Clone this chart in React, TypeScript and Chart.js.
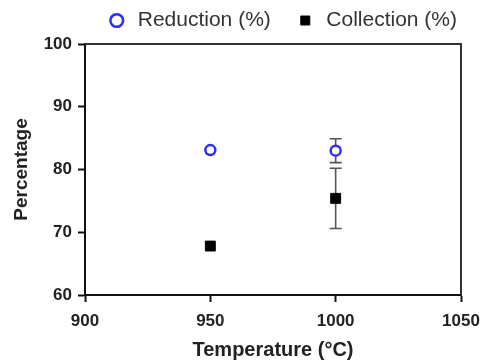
import React, { useEffect, useRef } from "react";
import { Chart, registerables } from "chart.js";

Chart.register(...registerables);

const temperatures = [950, 1000];
const reductionValues = [83.1, 83.0];
const reductionErrors = [0, 1.9];
const collectionValues = [67.8, 75.4];
const collectionErrors = [0, 4.8];
const xTicks = [900, 950, 1000, 1050];
const yTicks = [60, 70, 80, 90, 100];

const FONT = "Arial, 'Liberation Sans', Helvetica, sans-serif";

const errorBarPlugin = {
  id: "errorBars",
  beforeDatasetsDraw(chart: any) {
    const ctx = chart.ctx;
    const xs = chart.scales.x;
    const ys = chart.scales.y;
    chart.data.datasets.forEach((ds: any) => {
      const errs: number[] = ds.errors || [];
      ds.data.forEach((p: any, i: number) => {
        const e = errs[i];
        if (!e) return;
        const x = xs.getPixelForValue(p.x);
        const yTop = ys.getPixelForValue(p.y + e);
        const yBot = ys.getPixelForValue(p.y - e);
        ctx.save();
        ctx.strokeStyle = "#555555";
        ctx.lineWidth = 1.6;
        ctx.beginPath();
        ctx.moveTo(x, yTop);
        ctx.lineTo(x, yBot);
        ctx.moveTo(x - 6, yTop);
        ctx.lineTo(x + 6, yTop);
        ctx.moveTo(x - 6, yBot);
        ctx.lineTo(x + 6, yBot);
        ctx.stroke();
        ctx.restore();
      });
    });
  },
};

const framePlugin = {
  id: "frame",
  afterDraw(chart: any) {
    const { ctx, chartArea } = chart;
    ctx.save();
    ctx.strokeStyle = "#333333";
    ctx.lineWidth = 2;
    ctx.beginPath();
    ctx.moveTo(chartArea.left, chartArea.top);
    ctx.lineTo(chartArea.right, chartArea.top);
    ctx.lineTo(chartArea.right, chartArea.bottom);
    ctx.stroke();
    ctx.restore();
  },
};

// nudge the legend box after layout so its items sit where the reference has them
const legendShiftPlugin = {
  id: "legendShift",
  afterLayout(chart: any) {
    const lg = chart.legend;
    if (!lg) return;
    lg.top = -14;
    lg.right = 481;
  },
};

export default function App() {
  const ref = useRef<HTMLCanvasElement | null>(null);
  useEffect(() => {
    if (!ref.current) return;
    const chart = new Chart(ref.current, {
      type: "scatter",
      data: {
        datasets: [
          {
            label: "Reduction (%)",
            data: temperatures.map((t, i) => ({ x: t, y: reductionValues[i] })),
            errors: reductionErrors,
            pointStyle: "circle",
            pointRadius: 5,
            borderWidth: 2.5,
            borderColor: "#2b2bff",
            backgroundColor: "#ffffff",
          } as any,
          {
            label: "Collection (%)",
            data: temperatures.map((t, i) => ({ x: t, y: collectionValues[i] })),
            errors: collectionErrors,
            pointStyle: "rect",
            pointRadius: 7,
            borderWidth: 1,
            borderColor: "#000000",
            backgroundColor: "#000000",
          } as any,
        ],
      },
      options: {
        responsive: false,
        animation: false,
        layout: { padding: { left: 0, right: 22, top: 0, bottom: 0 } },
        plugins: {
          tooltip: { enabled: false },
          legend: {
            display: true,
            position: "top",
            align: "end",
            maxHeight: 44,
            labels: {
              usePointStyle: true,
              boxHeight: 9,
              padding: 24,
              color: "#333333",
              font: { family: FONT, size: 21 },
            },
          },
        },
        scales: {
          x: {
            type: "linear",
            min: 900,
            max: 1050,
            afterBuildTicks: (s: any) => {
              s.ticks = xTicks.map((v) => ({ value: v }));
            },
            afterFit: (s: any) => {
              s.height = 67;
              s.paddingLeft = 0;
              s.paddingRight = 0;
            },
            grid: {
              drawOnChartArea: false,
              drawTicks: true,
              tickLength: 7,
              tickWidth: 2,
              tickColor: "#111111",
            },
            border: { display: true, color: "#111111", width: 2 },
            ticks: {
              color: "#222222",
              padding: 9,
              callback: (v: any) => String(v),
              font: { family: FONT, size: 17, weight: "bold" },
            },
            title: {
              display: true,
              text: "Temperature (°C)",
              color: "#222222",
              padding: { top: 0, bottom: 0 },
              font: { family: FONT, size: 20, weight: "bold" },
            },
          },
          y: {
            type: "linear",
            min: 60,
            max: 100,
            afterBuildTicks: (s: any) => {
              s.ticks = yTicks.map((v) => ({ value: v }));
            },
            afterFit: (s: any) => {
              s.width = 85;
            },
            grid: {
              drawOnChartArea: false,
              drawTicks: true,
              tickLength: 7,
              tickWidth: 2,
              tickColor: "#111111",
            },
            border: { display: true, color: "#111111", width: 2 },
            ticks: {
              color: "#222222",
              padding: 6,
              callback: (v: any) => String(v),
              font: { family: FONT, size: 17, weight: "bold" },
            },
            title: {
              display: true,
              text: "Percentage",
              color: "#222222",
              padding: { top: 10, bottom: 0 },
              font: { family: FONT, size: 19, weight: "bold" },
            },
          },
        },
      },
      plugins: [errorBarPlugin, framePlugin, legendShiftPlugin],
    } as any);
    return () => chart.destroy();
  }, []);
  return (
    <div style={{ position: "fixed", left: 0, top: 0, width: 483, height: 362, background: "#fff" }}>
      <canvas ref={ref} width={483} height={362} />
    </div>
  );
}
